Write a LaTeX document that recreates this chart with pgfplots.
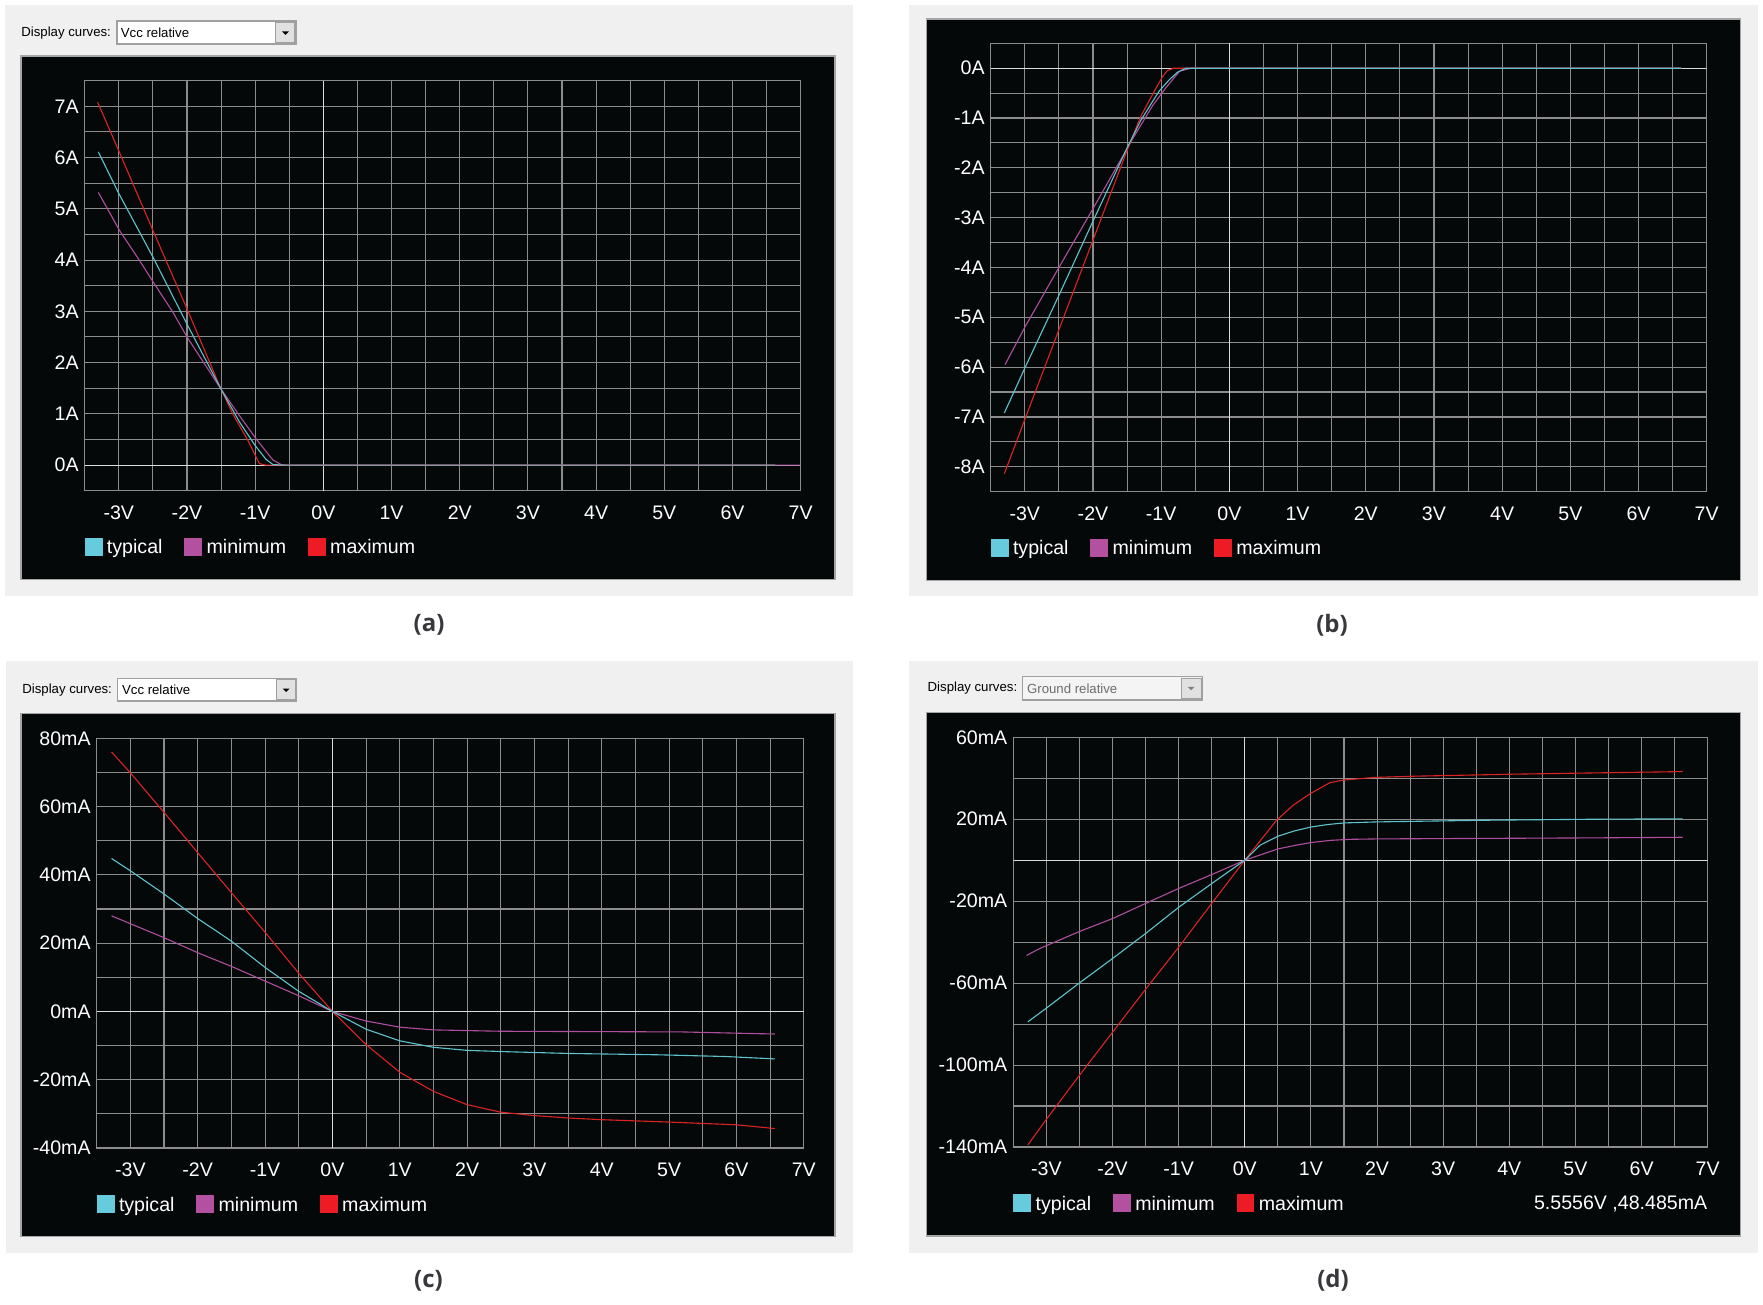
\documentclass[border=0pt]{standalone}
\usepackage{pgfplots}
\pgfplotsset{compat=1.18}
\usepackage{fontspec}
\setmainfont{Liberation Sans}
\newfontfamily\capfont{Open Sans}
\definecolor{panelbg}{RGB}{240,240,241}
\definecolor{plotbg}{RGB}{5,8,9}
\definecolor{framec}{RGB}{165,165,165}
\definecolor{gridc}{RGB}{140,140,140}
\definecolor{zeroc}{RGB}{220,220,220}
\definecolor{ltyp}{RGB}{95,195,205}
\definecolor{lmin}{RGB}{175,78,158}
\definecolor{lmax}{RGB}{220,35,35}
\definecolor{ctyp}{RGB}{102,204,221}
\definecolor{cmin}{RGB}{180,80,160}
\definecolor{cmax}{RGB}{237,28,36}
\definecolor{capc}{RGB}{55,55,60}
\definecolor{ddb}{RGB}{160,160,160}
\definecolor{btn}{RGB}{225,225,225}
\newcommand\tickfont{\fontsize{9.8pt}{11pt}\selectfont}
\newcommand\uifont{\fontsize{6.6pt}{8pt}\selectfont}
\tikzset{zl/.style={draw=zeroc, line width=0.55pt}}

\pgfplotsset{
 ibis/.style={
  scale only axis, anchor=north west,
  xmin=-3.5, xmax=7,
  xtick={-3,...,7},
  xticklabels={-3V,-2V,-1V,0V,1V,2V,3V,4V,5V,6V,7V},
  minor xtick={-2.5,-1.5,...,6.5},
  grid=both,
  major grid style={draw=gridc, line width=0.55pt},
  minor grid style={draw=gridc, line width=0.55pt},
  axis line style={draw=gridc, line width=0.55pt},
  major tick length=0pt, minor tick length=0pt,
  tick label style={font=\tickfont, text=white, inner sep=0pt},
  xticklabel style={anchor=center, yshift=-11pt},
  yticklabel style={anchor=east, xshift=-2.85pt},
  legend columns=3,
  legend image code/.code={\fill[##1] (0pt,-4.3pt) rectangle (8.4pt,4.3pt);},
  legend style={at={(0,0)}, anchor=north west, yshift=-23.5pt, draw=none, fill=none,
    inner sep=0pt, outer sep=0pt, font=\tickfont, text=white,
    nodes={inner sep=0pt, text depth=0pt, text=white}, cells={anchor=center},
    /tikz/every odd column/.append style={column sep=2.2pt},
    /tikz/every even column/.append style={column sep=10.9pt}},
  every axis plot/.append style={line width=0.55pt, line join=round},
 },
}

\begin{document}
\begin{tikzpicture}
\begin{scope}[x=0.5pt,y=-0.5pt]
\fill[white] (0,0) rectangle (1763,1305);
% panels
\fill[panelbg] (5,5) rectangle (852.7,596);
\fill[panelbg] (909.3,5) rectangle (1757.7,596);
\fill[panelbg] (6,661) rectangle (852.7,1252.7);
\fill[panelbg] (909.3,661) rectangle (1757.7,1252.7);
\filldraw[fill=plotbg, draw=framec, line width=0.7pt] (21,56) rectangle (835,579.3);
\filldraw[fill=plotbg, draw=framec, line width=0.7pt] (926.7,19) rectangle (1740.7,580.7);
\filldraw[fill=plotbg, draw=framec, line width=0.7pt] (21,713.3) rectangle (835,1236.7);
\filldraw[fill=plotbg, draw=framec, line width=0.7pt] (926.7,712.7) rectangle (1740.7,1236);
% dropdown (a)
\node[anchor=west, inner sep=0pt, font=\uifont] at (21,33) {Display curves:};
\filldraw[fill=white, draw=ddb, line width=0.6pt] (117,21) rectangle (296,44);
\filldraw[fill=btn, draw=ddb, line width=0.5pt] (275,22.5) rectangle (294.5,42.5);
\fill[black] (282,31.5) -- (289,31.5) -- (285.5,35) -- cycle;
\node[anchor=west, inner sep=0pt, font=\uifont] at (120.5,33) {Vcc relative};
% dropdown (c)
\node[anchor=west, inner sep=0pt, font=\uifont] at (22,690) {Display curves:};
\filldraw[fill=white, draw=ddb, line width=0.6pt] (117.7,678.3) rectangle (296.7,701);
\filldraw[fill=btn, draw=ddb, line width=0.5pt] (276.5,679.8) rectangle (295.2,699.5);
\fill[black] (282.7,688.5) -- (289.7,688.5) -- (286.2,692) -- cycle;
\node[anchor=west, inner sep=0pt, font=\uifont] at (121.7,690) {Vcc relative};
% dropdown (d)
\node[anchor=west, inner sep=0pt, font=\uifont] at (927.3,688.3) {Display curves:};
\filldraw[fill={rgb,255:red,244;green,244;blue,244}, draw=ddb, line width=0.6pt] (1022.7,676.7) rectangle (1202.7,700);
\filldraw[fill=btn, draw=ddb, line width=0.5pt] (1181,678.2) rectangle (1201.2,698.5);
\fill[gray] (1187.6,686.8) -- (1194.6,686.8) -- (1191.1,690.3) -- cycle;
\node[anchor=west, inner sep=0pt, font=\uifont, text={rgb,255:red,109;green,109;blue,109}] at (1026.7,688.3) {Ground relative};
% cursor readout (d)
\node[anchor=east, inner sep=0pt, font=\tickfont, text=white] at (1707.7,1204) {5.5556V ,48.485mA};
% captions
\node[font=\capfont\bfseries\fontsize{12pt}{14pt}\selectfont, text=capc] at (429,625) {(a)};
\node[font=\capfont\bfseries\fontsize{12pt}{14pt}\selectfont, text=capc] at (1332,625) {(b)};
\node[font=\capfont\bfseries\fontsize{12pt}{14pt}\selectfont, text=capc] at (428.5,1280.5) {(c)};
\node[font=\capfont\bfseries\fontsize{12pt}{14pt}\selectfont, text=capc] at (1333,1280) {(d)};
\end{scope}

% ---------------- (a)
\begin{axis}[ibis, at={(42.35pt,-40.35pt)}, width=358pt, height=205pt,
  ymin=-0.5, ymax=7.5, ytick={0,...,7},
  yticklabels={0A,1A,2A,3A,4A,5A,6A,7A},
  minor ytick={0.5,1.5,...,6.5}]
\draw[zl] (axis cs:0,-0.5) -- (axis cs:0,7.5);
\draw[zl] (axis cs:-3.5,0) -- (axis cs:7,0);
\addlegendimage{ctyp}\addlegendentry{typical}
\addlegendimage{cmin}\addlegendentry{minimum}
\addlegendimage{cmax}\addlegendentry{maximum}
\addplot[lmin, forget plot] coordinates {(-3.30,5.32) (-2.99,4.58) (-2.7,4.0) (-2.48,3.54) (-2.21,2.99) (-2.0,2.5) (-1.51,1.5) (-1.25,1.0) (-0.98,0.5) (-0.74,0.10) (-0.62,0.01) (-0.55,0) (7.0,0)};
\addplot[lmax, forget plot] coordinates {(-3.31,7.08) (-2.99,6.1) (-2.5,4.58) (-2.0,3.05) (-1.52,1.54) (-1.33,1.0) (-1.11,0.49) (-0.94,0.03) (-0.85,0) (6.63,0)};
\addplot[ltyp, forget plot] coordinates {(-3.30,6.11) (-3.0,5.3) (-2.5,4.06) (-2.0,2.75) (-1.5,1.48) (-1.23,0.84) (-1.0,0.38) (-0.84,0.11) (-0.74,0.01) (-0.6,0) (6.63,0)};
\end{axis}

% ---------------- (b)
\begin{axis}[ibis, at={(495.35pt,-21.65pt)}, width=358pt, height=224.2pt,
  ymin=-8.5, ymax=0.5, ytick={-8,...,0},
  yticklabels={-8A,-7A,-6A,-5A,-4A,-3A,-2A,-1A,0A},
  minor ytick={-7.5,-6.5,...,-0.5}]
\draw[zl] (axis cs:0,-8.5) -- (axis cs:0,0.5);
\draw[zl] (axis cs:-3.5,0) -- (axis cs:7,0);
\addlegendimage{ctyp}\addlegendentry{typical}
\addlegendimage{cmin}\addlegendentry{minimum}
\addlegendimage{cmax}\addlegendentry{maximum}
\addplot[lmin, forget plot] coordinates {(-3.29,-5.95) (-3.0,-5.2) (-2.5,-4.0) (-2.0,-2.82) (-1.71,-2.12) (-1.42,-1.42) (-1.13,-0.76) (-0.93,-0.39) (-0.73,-0.06) (-0.56,0) (6.63,0)};
\addplot[lmax, forget plot] coordinates {(-3.30,-8.14) (-3.0,-7.05) (-2.5,-5.25) (-2.0,-3.45) (-1.5,-1.65) (-1.3,-0.97) (-1.1,-0.46) (-0.98,-0.17) (-0.91,-0.05) (-0.82,0) (6.63,0)};
\addplot[ltyp, forget plot] coordinates {(-3.30,-6.92) (-3.0,-6.02) (-2.5,-4.56) (-2.0,-3.07) (-1.5,-1.6) (-1.3,-1.05) (-1.15,-0.72) (-1.03,-0.46) (-0.88,-0.23) (-0.76,-0.08) (-0.64,0) (6.63,0)};
\end{axis}

% ---------------- (c)
\begin{axis}[ibis, at={(48.35pt,-369.15pt)}, width=353.55pt, height=204.85pt,
  ymin=-40, ymax=80, ytick={-40,-20,...,80},
  yticklabels={-40mA,-20mA,0mA,20mA,40mA,60mA,80mA},
  minor ytick={-30,-10,...,70}]
\draw[zl] (axis cs:0,-40) -- (axis cs:0,80);
\draw[zl] (axis cs:-3.5,0) -- (axis cs:7,0);
\addlegendimage{ctyp}\addlegendentry{typical}
\addlegendimage{cmin}\addlegendentry{minimum}
\addlegendimage{cmax}\addlegendentry{maximum}
\addplot[lmax, forget plot] coordinates {(-3.28,76.0) (-3.0,69.9) (-2.5,58.3) (-2.0,46.5) (-1.5,34.8) (-1.0,23.2) (-0.5,11.2) (0,0) (0.5,-9.7) (1.0,-17.8) (1.5,-23.4) (2.0,-27.3) (2.5,-29.5) (3.0,-30.5) (3.5,-31.2) (4.0,-31.7) (5.0,-32.4) (6.0,-33.2) (6.57,-34.3)};
\addplot[lmin, forget plot] coordinates {(-3.28,28.0) (-3.0,25.7) (-2.5,21.6) (-2.0,17.2) (-1.5,13.2) (-1.0,8.9) (-0.5,4.6) (0,0) (0.5,-2.8) (1.0,-4.6) (1.5,-5.4) (2.5,-5.8) (5.2,-6.0) (6.3,-6.5) (6.57,-6.6)};
\addplot[ltyp, forget plot] coordinates {(-3.28,44.8) (-3.0,41.2) (-2.5,34.4) (-2.0,27.2) (-1.5,20.6) (-1.0,12.9) (-0.5,5.9) (0,0) (0.5,-5.2) (1.0,-8.6) (1.5,-10.5) (2.0,-11.4) (2.6,-11.8) (3.5,-12.3) (4.85,-12.7) (5.84,-13.2) (6.57,-13.9)};
\end{axis}

% ---------------- (d)
\begin{axis}[ibis, at={(506.65pt,-368.65pt)}, width=347.2pt, height=204.85pt,
  ymin=-140, ymax=60, ytick={-140,-100,...,60},
  yticklabels={-140mA,-100mA,-60mA,-20mA,20mA,60mA},
  minor ytick={-120,-80,...,40}]
\draw[zl] (axis cs:0,-140) -- (axis cs:0,60);
\draw[zl] (axis cs:-3.5,0) -- (axis cs:7,0);
\addlegendimage{ctyp}\addlegendentry{typical}
\addlegendimage{cmin}\addlegendentry{minimum}
\addlegendimage{cmax}\addlegendentry{maximum}
\addplot[lmax, forget plot] coordinates {(-3.28,-139) (-3.0,-126.5) (-2.5,-105) (-2.0,-84) (-1.5,-63) (-1.0,-42.5) (-0.5,-21.1) (0,0) (0.48,19.5) (0.73,26.8) (0.99,32.5) (1.29,37.9) (1.49,39.1) (1.95,40.4) (2.55,41.0) (4.06,42.0) (5.25,42.6) (6.31,43.1) (6.62,43.3)};
\addplot[lmin, forget plot] coordinates {(-3.30,-46.5) (-3.1,-43.1) (-2.5,-34.8) (-2.0,-28.5) (-1.5,-21.1) (-1.0,-13.8) (-0.5,-7.0) (0,0) (0.5,5.5) (0.8,7.5) (1.0,8.6) (1.3,9.7) (1.6,10.2) (2.0,10.4) (5.25,10.9) (6.62,11.2)};
\addplot[ltyp, forget plot] coordinates {(-3.28,-78.9) (-3.0,-72.2) (-2.5,-59.9) (-2.0,-48.0) (-1.5,-35.8) (-1.0,-23.0) (-0.5,-11.4) (0,0) (0.23,7.3) (0.5,11.7) (0.75,14.3) (1.0,16.2) (1.25,17.4) (1.5,18.2) (2.0,18.7) (3.6,19.5) (5.25,20.0) (6.62,20.2)};
\end{axis}
\end{tikzpicture}
\end{document}
